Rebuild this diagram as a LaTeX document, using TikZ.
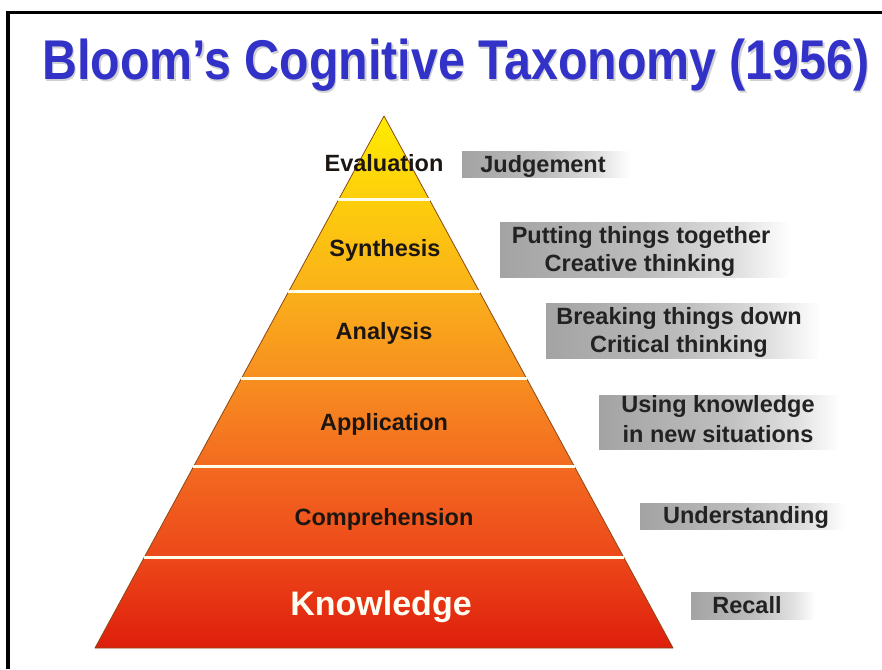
\documentclass[tikz,border=0pt]{standalone}
\usepackage{fontspec}
\usepackage{graphicx}
\setmainfont{Liberation Sans}
\definecolor{titleblue}{RGB}{50,50,200}
\definecolor{cA}{RGB}{255,236,0}
\definecolor{cB}{RGB}{253,206,12}
\definecolor{cC}{RGB}{250,176,26}
\definecolor{cD}{RGB}{247,142,32}
\definecolor{cE}{RGB}{243,106,32}
\definecolor{cF}{RGB}{237,72,26}
\definecolor{cG}{RGB}{222,30,12}
\definecolor{edgec}{RGB}{140,72,20}
\definecolor{textdark}{RGB}{28,22,18}
\definecolor{labgray}{RGB}{34,34,34}
\pgfdeclarehorizontalshading{grayfade}{100bp}{color(0bp)=(black!36); color(25bp)=(black!36); color(50bp)=(black!26); color(66bp)=(black!12); color(75bp)=(white); color(100bp)=(white)}
\tikzset{
  lvl/.style={inner sep=0pt, anchor=base, text=textdark, font=\fontsize{23.5}{28}\selectfont\bfseries},
  rlab/.style={inner sep=0pt, anchor=base, text=labgray, font=\fontsize{23.5}{28}\selectfont\bfseries},
  gbox/.style={shading=grayfade},
  sep/.style={draw=white!92!yellow, line width=3pt}
}
\begin{document}
\begin{tikzpicture}[x=1pt,y=1pt]
\useasboundingbox (0,0) rectangle (882,669);
\fill[white] (0,0) rectangle (882,669);
% frame
\draw[line width=3.5pt] (8,0) -- (8,656.5) -- (882,656.5);
% title
\node[anchor=base, inner sep=0pt, text=black!18] at (457.5,587.5) {\fontsize{56}{60}\selectfont\bfseries\scalebox{0.863}[1]{Bloom’s Cognitive Taxonomy (1956)}};
\node[anchor=base, inner sep=0pt, text=titleblue] (title) at (456,589) {\fontsize{56}{60}\selectfont\bfseries\scalebox{0.863}[1]{Bloom’s Cognitive Taxonomy (1956)}};
% pyramid bands
\shade[top color=cA, bottom color=cB] (384,553) -- (338.4,469) -- (429.6,469) -- cycle;
\shade[top color=cB, bottom color=cC] (338.4,469) -- (288.4,377) -- (479.6,377) -- (429.6,469) -- cycle;
\shade[top color=cC, bottom color=cD] (288.4,377) -- (241.1,290) -- (526.9,290) -- (479.6,377) -- cycle;
\shade[top color=cD, bottom color=cE] (241.1,290) -- (193.3,202) -- (574.7,202) -- (526.9,290) -- cycle;
\shade[top color=cE, bottom color=cF] (193.3,202) -- (144.4,112) -- (623.6,112) -- (574.7,202) -- cycle;
\shade[top color=cF, bottom color=cG] (144.4,112) -- (95,21) -- (673,21) -- (623.6,112) -- cycle;
\draw[edgec, line width=0.8pt, line join=round] (384,553) -- (95,21) -- (673,21) -- cycle;
% separators
\draw[sep] (338.4,469) -- (429.6,469);
\draw[sep] (288.4,377) -- (479.6,377);
\draw[sep] (241.1,290) -- (526.9,290);
\draw[sep] (193.3,202) -- (574.7,202);
\draw[sep] (144.4,112) -- (623.6,112);
% level labels
\node[lvl] (eval) at (384,497) {Evaluation};
\node[lvl] (synth) at (385,412) {Synthesis};
\node[lvl] (anal) at (384,329) {Analysis};
\node[lvl] (appl) at (384,238) {Application};
\node[lvl] (comp) at (384,144) {Comprehension};
\node[lvl, text=white!95!yellow, font=\fontsize{34}{38}\selectfont\bfseries] (know) at (381,54) {Knowledge};
% right boxes
\shade[gbox] (462,491) rectangle (630,517);
\shade[gbox] (500,391) rectangle (790,446);
\shade[gbox] (546,310) rectangle (820,365);
\shade[gbox] (599,219) rectangle (840,273);
\shade[gbox] (640,140) rectangle (845,166);
\shade[gbox] (691,50) rectangle (815,77);
% right labels
\node[rlab] (judg) at (543,496) {Judgement};
\node[rlab] (put1) at (641,425) {Putting things together};
\node[rlab] (put2) at (640,397) {Creative thinking};
\node[rlab] (brk1) at (679,344) {Breaking things down};
\node[rlab] (brk2) at (679,316) {Critical thinking};
\node[rlab] (use1) at (718,256) {Using knowledge};
\node[rlab] (use2) at (718,226) {in new situations};
\node[rlab] (und) at (746,146) {Understanding};
\node[rlab] (rec) at (747,56) {Recall};
\end{tikzpicture}
\end{document}
